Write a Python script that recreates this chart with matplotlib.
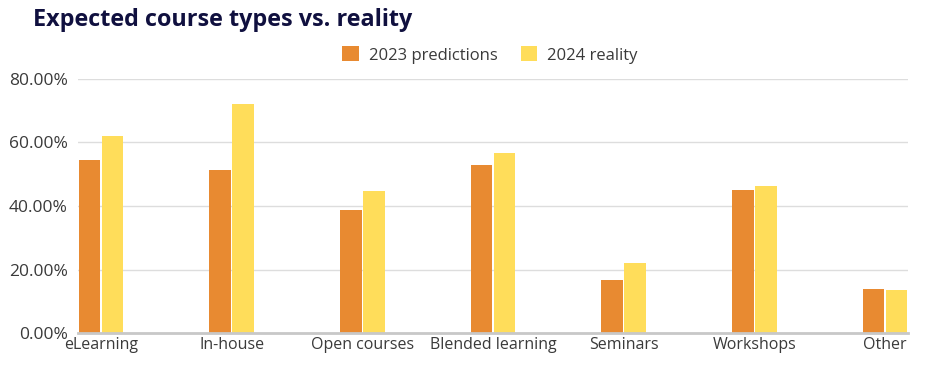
import matplotlib
matplotlib.use("Agg")
import matplotlib.pyplot as plt
import numpy as np
from matplotlib.ticker import FuncFormatter

categories = ["eLearning", "In-house", "Open courses", "Blended learning", "Seminars", "Workshops", "Other"]
pred_2023 = [54.5, 51.3, 38.7, 52.9, 16.8, 45.0, 13.8]
real_2024 = [62.0, 72.2, 44.6, 56.6, 22.2, 46.3, 13.4]
series_labels = ["2023 predictions", "2024 reality"]
yticks = [0, 20, 40, 60, 80]

c_orange = "#E88A31"
c_yellow = "#FFDD5A"

fig = plt.figure(figsize=(9.41, 3.70), dpi=100)
ax = fig.add_axes([78/941, 1-333/370, (908-78)/941, (333-79)/370])

x = np.arange(len(categories))
w = 0.168
off = 0.088
b1 = ax.bar(x - off, pred_2023, width=w, color=c_orange, label=series_labels[0], zorder=3)
b2 = ax.bar(x + off, real_2024, width=w, color=c_yellow, label=series_labels[1], zorder=3)

ax.set_xlim(-0.176, len(categories) - 1 + 0.176)
ax.set_ylim(0, 80)
ax.set_yticks(yticks)
ax.yaxis.set_major_formatter(FuncFormatter(lambda v, p: f"{v:.2f}%"))
ax.set_xticks(x)
ax.set_xticklabels(categories)

for s in ["top", "right", "left"]:
    ax.spines[s].set_visible(False)
ax.spines["bottom"].set_color("#C8C8C8")
ax.spines["bottom"].set_linewidth(2)
ax.spines["bottom"].set_zorder(4)
ax.grid(axis="y", color="#DDDDDD", linewidth=1, zorder=0)
ax.tick_params(axis="x", length=0, labelsize=11.5, labelcolor="#3A3A3A", pad=3)
ax.tick_params(axis="y", length=0, labelsize=12.5, labelcolor="#3A3A3A", pad=7.5)
for lab in ax.get_xticklabels() + ax.get_yticklabels():
    lab.set_family("Open Sans")

fig.text(33/941, 1-26/370, "Expected course types vs. reality", fontsize=16.8,
         fontweight="bold", color="#10103F", family="Open Sans", va="baseline")

leg = fig.legend(handles=[b1, b2], labels=series_labels, loc="center",
                 bbox_to_anchor=(490/941, 1-55/370), ncol=2, frameon=False,
                 prop={"family": "Open Sans", "size": 12}, handlelength=1.0,
                 handleheight=1.0, handletextpad=0.6, columnspacing=1.4)
for t in leg.get_texts():
    t.set_color("#3A3A3A")

fig.savefig("out.png", dpi=100)
